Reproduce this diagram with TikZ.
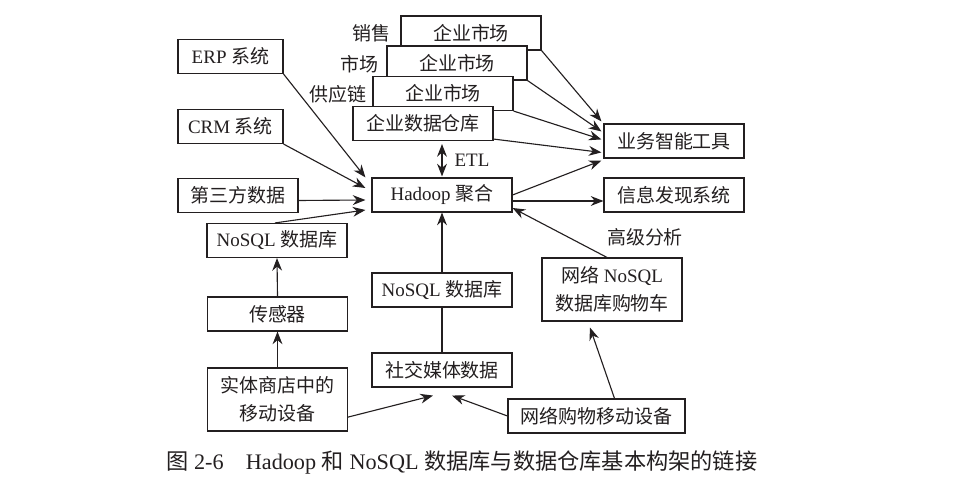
\documentclass[tikz,border=0pt]{standalone}
\usepackage{fontspec}
\setmainfont{Liberation Serif}
\newfontfamily\zhfont{Noto Sans CJK SC}
\newcommand{\zh}[1]{{\zhfont#1}}
\usetikzlibrary{arrows.meta,calc}
\definecolor{ink}{HTML}{231F20}

\begin{document}
\begin{tikzpicture}[
  x=0.25mm, y=-0.25mm,
  font={\fontsize{13.5pt}{20pt}\selectfont},
  >={Stealth[length=9pt,width=7pt]},
  box/.style={draw=ink, fill=white, line width=0.8pt, text=ink, align=center,
    inner sep=0pt, minimum height=8.5mm, minimum width=35mm},
  tallbox/.style={box, minimum height=15.75mm},
  link/.style={->, draw=ink, line width=0.8pt},
  plain/.style={draw=ink, line width=0.8pt},
  tag/.style={text=ink, inner sep=0pt}
]
\useasboundingbox (0,0) rectangle (963,484);

% ---------------------------------------------------------------------------
% sources on the left
% ---------------------------------------------------------------------------
\node[box, minimum width=26.25mm] (erp) at (230.5,56.5) {ERP \zh{系统}};
\node[box, minimum width=26.25mm] (crm) at (230.5,126.5) {CRM \zh{系统}};
\node[box, minimum width=30mm] (third) at (238,195.5) {\zh{第三方数据}};
\node[box] (nosqlL) at (277,240.5) {NoSQL \zh{数据库}};
\node[box] (sensor) at (277.5,314) {\zh{传感器}};
\node[tallbox] (store) at (277.5,399.5) {\zh{实体商店中的}\\\zh{移动设备}};

% ---------------------------------------------------------------------------
% warehouse stack and the Hadoop column
% ---------------------------------------------------------------------------
\node[box] (mktA) at (471,33) {\zh{企业市场}};
\node[box] (mktB) at (457,63) {\zh{企业市场}};
\node[box] (mktC) at (443,93.5) {\zh{企业市场}};
\node[box] (edw) at (423,123.5) {\zh{企业数据仓库}};
\node[tag] (salesTag) at (371,33) {\zh{销售}};
\node[tag] (marketTag) at (359,64) {\zh{市场}};
\node[tag] (supplyTag) at (338,94) {\zh{供应链}};

\node[box] (hadoop) at (442,195) {Hadoop \zh{聚合}};
\node[box] (nosqlC) at (442,290) {NoSQL \zh{数据库}};
\node[box] (social) at (442,370) {\zh{社交媒体数据}};
\node[tag] (etl) at (472,160) {ETL};

% ---------------------------------------------------------------------------
% right side
% ---------------------------------------------------------------------------
\node[box] (bi) at (674,141) {\zh{业务智能工具}};
\node[box] (info) at (674,195) {\zh{信息发现系统}};
\node[tallbox] (cart) at (612,289.5) {\zh{网络} NoSQL\\\zh{数据库购物车}};
\node[box, minimum width=44.25mm] (mobile) at (596.5,416) {\zh{网络购物移动设备}};
\node[tag] (advTag) at (645,237) {\zh{高级分析}};

% connectors
\draw[link] (mktA.south east) -- ([xshift=-0.5mm,yshift=0.5mm]bi.north west);
\draw[link] (mktB.south east) -- ([xshift=-0.5mm,yshift=-2mm]bi.north west);
\draw[link] (mktC.south east) -- ([xshift=-0.5mm,yshift=-4mm]bi.north west);
\draw[link] ([yshift=0.5mm]edw.south east) -- ([xshift=-0.5mm,yshift=-7.25mm]bi.north west);
\draw[link] (hadoop.east) -- ([xshift=-0.5mm,yshift=-0.5mm]bi.south west);
\draw[link] ([yshift=-1.5mm]hadoop.east) -- ([yshift=-1.5mm]info.west);
\draw[link] ([xshift=-1.25mm]cart.north) -- ([yshift=-3.25mm]hadoop.east);
\draw[<->, draw=ink, line width=0.8pt, shorten <=0.75mm, shorten >=0.25mm]
  (edw.south -| hadoop.north) -- (hadoop.north);

\draw[link] (erp.south east) -- ([xshift=-1.5mm]hadoop.north west);
\draw[link] (crm.south east) -- ([xshift=-1.5mm,yshift=1.75mm]hadoop.west);
\draw[link] ([yshift=-1.25mm]third.east) -- ([xshift=-1.5mm,yshift=-1.25mm]hadoop.west);
\draw[link] ([xshift=-0.5mm]nosqlL.north) -- ([xshift=-1.5mm,yshift=-3.75mm]hadoop.west);
\draw[link] (sensor.north) -- (nosqlL.south);
\draw[link] (store.north) -- (sensor.south);

\draw[link] ([yshift=-4.4mm]store.east) -- ([xshift=-2.25mm,yshift=-2mm]social.south);
\draw[link] (mobile.west) -- ([xshift=2.5mm,yshift=-2mm]social.south);
\draw[link] ([xshift=4.5mm]mobile.north) -- ([xshift=-5.5mm,yshift=-1.5mm]cart.south);
\draw[plain] (social.north) -- (nosqlC.south);
\draw[link] (nosqlC.north) -- (hadoop.south);

% caption
\node[tag, anchor=west, font={\fontsize{15.8pt}{20pt}\selectfont}] (caption) at (166,462)
  {\zh{图} 2-6\quad Hadoop \zh{和} NoSQL \zh{数据库与数据仓库基本构架的链接}};

\end{tikzpicture}
\end{document}
